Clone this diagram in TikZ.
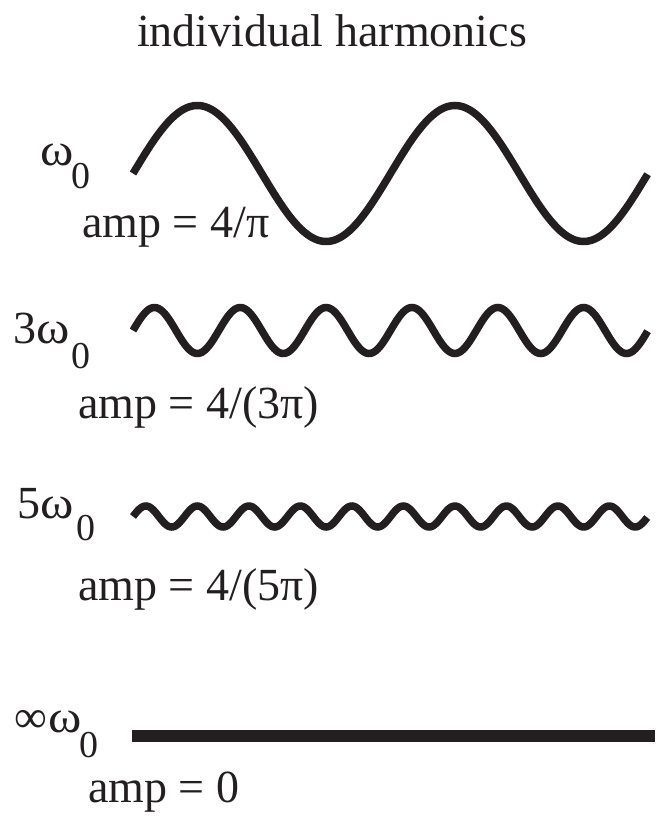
\documentclass[tikz,border=0pt]{standalone}
\usepackage{fontspec}
\setmainfont{Liberation Serif}
\definecolor{ink}{HTML}{231F20}
\begin{document}
\begin{tikzpicture}[x=1pt,y=-1pt,
  lbl/.style={anchor=base west,inner sep=0pt,text=ink,font=\fontsize{46}{50}\selectfont},
  wave/.style={draw=ink,line width=7.5pt},
  flat/.style={draw=ink,line width=12pt}]
\useasboundingbox (0,0) rectangle (663,829);
\newcommand{\glyphat}[2]{\makebox[0pt][l]{\hspace{#1pt}#2}}
\newcommand{\omg}{\scalebox{1.1}[1]{ω}}
\newcommand{\subzat}[2]{\makebox[0pt][l]{\hspace{#1pt}\raisebox{-#2pt}{\fontsize{38}{40}\selectfont 0}}}
% title
\node[lbl] (title) at (137,47) {individual harmonics};
% fundamental
\node[lbl] (l1) at (0,165) {\glyphat{40}{\omg}\subzat{71}{23}};
\draw[wave] plot[domain=0:1,samples=220,smooth] ({133+515*\x},{173.5-68*sin(720*\x)});
\node[lbl] (a1) at (82,237) {amp = 4/π};
% third
\node[lbl] (l3) at (0,343) {\glyphat{13}{3}\glyphat{36}{\omg}\subzat{71}{25}};
\draw[wave] plot[domain=0:1,samples=300,smooth] ({133+515*\x},{330.5-23*sin(2160*\x)});
\node[lbl] (a3) at (78,418) {amp = 4/(3π)};
% fifth
\node[lbl] (l5) at (0,518) {\glyphat{17}{5}\glyphat{40}{\omg}\subzat{76}{22}};
\draw[wave] plot[domain=0:1,samples=400,smooth] ({133+515*\x},{516.5-10.5*sin(3600*\x)});
\node[lbl] (a5) at (78,600) {amp = 4/(5π)};
% infinite
\node[lbl] (linf) at (0,732) {\glyphat{14}{∞}\glyphat{48}{\omg}\subzat{79}{25}};
\coordinate (f1) at (132,736);
\coordinate (f2) at (655,736);
\draw[flat] (f1) -- (f2);
\node[lbl] (a0) at (88,802) {amp = 0};
\end{tikzpicture}
\end{document}
